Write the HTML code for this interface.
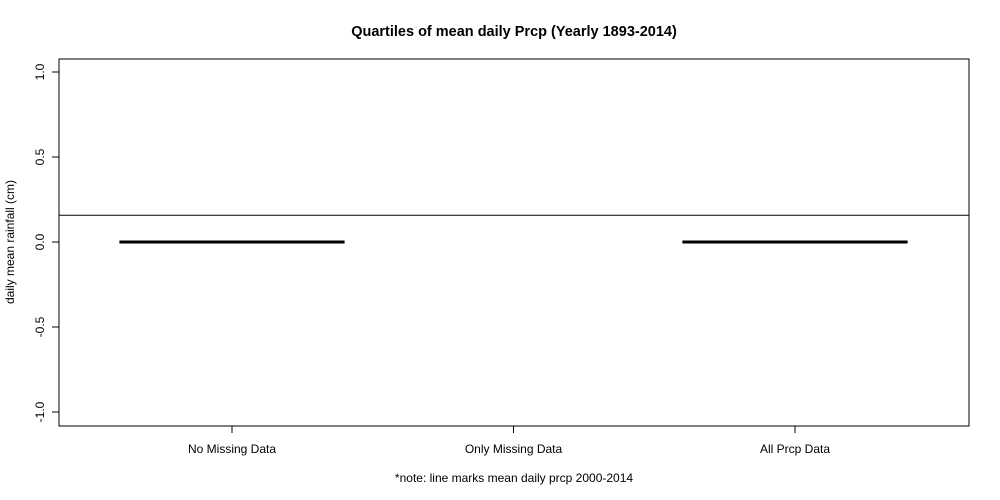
<!DOCTYPE html>
<html><head><meta charset="utf-8"><style>
body{margin:0;background:#fff}
svg{display:block;font-family:"Liberation Sans",Arial,sans-serif}
</style></head><body>
<svg id="chart" width="1000" height="500">
<rect width="1000" height="500" fill="#fff"/>
<text x="514" y="36" text-anchor="middle" font-size="14.5" font-weight="bold">Quartiles of mean daily Prcp (Yearly 1893-2014)</text>
<rect x="59" y="59" width="910" height="367" fill="none" stroke="#000" stroke-width="1"/>
<text transform="translate(14,242) rotate(-90)" text-anchor="middle" font-size="12">daily mean rainfall (cm)</text>
<text x="514" y="482" text-anchor="middle" font-size="12">*note: line marks mean daily prcp 2000-2014</text>
<g id="yaxis"></g>
<g id="xaxis"></g>
<g id="marks"></g>
</svg>
<script>
const categories = ["No Missing Data","Only Missing Data","All Prcp Data"];
const q1 = [0, null, 0];
const medians = [0, null, 0];
const q3 = [0, null, 0];
const meanLine = 0.157;
const yTicks = [-1.0,-0.5,0.0,0.5,1.0];
const yTickLabels = ["-1.0","-0.5","0.0","0.5","1.0"];

const NS="http://www.w3.org/2000/svg";
function y(v){return 242 - v*170;}
function x(i){return 232 + i*281.5;}
function mk(tag,attrs,parent){const e=document.createElementNS(NS,tag);for(const k in attrs)e.setAttribute(k,attrs[k]);parent.appendChild(e);return e;}
const ya=document.getElementById('yaxis'), xa=document.getElementById('xaxis'), m=document.getElementById('marks');
mk('line',{x1:59,x2:59,y1:y(1),y2:y(-1),stroke:'#000'},ya);
yTicks.forEach((v,i)=>{
  const t=mk('line',{x1:52,x2:59,y1:y(v),y2:y(v),stroke:'#000'},ya);
  
  
  const l=mk('text',{transform:`translate(44,${y(v)}) rotate(-90)`,'text-anchor':'middle','font-size':12},ya);
  l.textContent=yTickLabels[i];
  
  
});
mk('line',{x1:x(0),x2:x(2),y1:426,y2:426,stroke:'#000'},xa);
categories.forEach((c,i)=>{
  const t=mk('line',{x1:x(i),x2:x(i),y1:426,y2:433,stroke:'#000'},xa);
  
  
  const l=mk('text',{x:x(i),y:453,'text-anchor':'middle','font-size':12},xa);
  l.textContent=c;
  
  
  if(medians[i]!==null){
    const hw=0.4*281.5;
    const b=mk('rect',{x:x(i)-hw,y:y(q3[i]),width:2*hw,height:Math.max(0,y(q1[i])-y(q3[i])),fill:'none',stroke:'#000'},m);
    
    
    const md=mk('line',{x1:x(i)-hw,x2:x(i)+hw,y1:y(medians[i]),y2:y(medians[i]),stroke:'#000','stroke-width':3},m);
    
    
  }
});
const ml=mk('line',{x1:59,x2:969,y1:y(meanLine),y2:y(meanLine),stroke:'#000'},m);


</script>
</body></html>
